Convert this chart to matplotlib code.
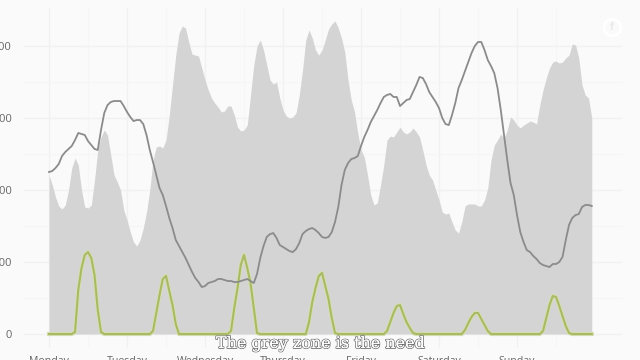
import numpy as np
import matplotlib
matplotlib.use('Agg')
import matplotlib.pyplot as plt
import matplotlib.patheffects as pe

days = ['Monday', 'Tuesday', 'Wednesday', 'Thursday', 'Friday', 'Saturday', 'Sunday']
y_ticks = [0, 5000, 10000, 15000, 20000]

# hourly values over one week
need = [11040, 10350, 9510, 8890, 8680, 8960, 10000, 11530, 12220, 11740, 10000, 8820,
        8750, 8960, 10690, 12780, 13680, 14170, 13820, 12430, 11040, 10560, 10000, 8610,
        7920, 7080, 6390, 6110, 6530, 7360, 8470, 10000, 12080, 12990, 13060, 12920,
        13470, 15210, 17290, 19370, 20900, 21390, 21250, 20280, 19440, 19370, 19300, 18470,
        17640, 16940, 16390, 16040, 15760, 15420, 15490, 15830, 15830, 15210, 14370, 14100,
        14170, 14510, 16600, 18680, 20000, 20420, 19720, 18680, 17640, 17360, 17500, 16390,
        15560, 15140, 15000, 15070, 15350, 16600, 18330, 20420, 21110, 20560, 19720, 19370,
        19720, 20420, 21180, 21530, 21740, 21250, 20560, 19580, 17640, 16250, 15420, 13960,
        12780, 12290, 11040, 9650, 8960, 9100, 10350, 11740, 13470, 13750, 13680, 14030,
        14370, 14030, 13890, 14030, 14310, 14030, 13680, 12780, 11740, 11040, 10690, 10000,
        9310, 8470, 8330, 8400, 7780, 7220, 7010, 7780, 8890, 9030, 9030, 9030,
        8890, 8890, 9310, 10140, 12080, 13120, 13470, 13890, 13610, 14170, 15070, 14860,
        14510, 14310, 14510, 14650, 14790, 14720, 14580, 15900, 16940, 17780, 18470, 18890,
        18960, 18820, 18890, 19170, 19370, 20140, 20070, 19170, 17290, 16600, 16390, 15000]

supply = [11250, 11320, 11530, 11810, 12360, 12640, 12850, 13060, 13470, 13960, 13890, 13820,
          13400, 13120, 12850, 12780, 14170, 15350, 15900, 16110, 16180, 16180, 16180, 15830,
          15420, 15070, 14790, 14860, 14860, 14580, 13820, 12780, 11940, 11040, 10140, 9650,
          8890, 8060, 7360, 6530, 6110, 5690, 5280, 4790, 4310, 3890, 3610, 3260,
          3330, 3540, 3610, 3680, 3820, 3820, 3750, 3680, 3680, 3610, 3610, 3680,
          3750, 3820, 3680, 3540, 4170, 5280, 6110, 6740, 6940, 7010, 6670, 6180,
          6040, 5900, 5760, 5690, 5900, 6320, 6940, 7150, 7290, 7360, 7220, 7010,
          6740, 6670, 6740, 7080, 7780, 8820, 10350, 11390, 11870, 12150, 12220, 12360,
          13060, 13680, 14170, 14720, 15140, 15560, 16040, 16460, 16600, 16670, 16460, 16460,
          15830, 16040, 16250, 16320, 16800, 17290, 17850, 17780, 17360, 16800, 16460, 16110,
          15690, 15000, 14580, 14510, 15210, 16040, 17080, 17640, 18260, 18890, 19510, 20000,
          20280, 20280, 19720, 19030, 18610, 18120, 17080, 15560, 13820, 12080, 10490, 9650,
          8260, 7080, 6390, 5830, 5690, 5420, 5210, 4930, 4790, 4720, 4650, 4860,
          4860, 5000, 5350, 6530, 7570, 8060, 8260, 8330, 8820, 8960, 8960, 8890]

solar = ([0] * 8 + [140, 3060, 4580, 5490, 5690, 5280, 4100, 1670, 140]
         + [0] * 15 + [210, 1460, 2710, 3820, 4030, 2990, 2010, 690]
         + [0] * 16 + [210, 1810, 3190, 4790, 5490, 4580, 3540, 1810, 70]
         + [0] * 15 + [830, 2220, 3190, 4030, 4240, 3330, 2430, 1110, 70]
         + [0] * 15 + [210, 830, 1460, 1940, 2010, 1390, 830, 420, 70]
         + [0] * 15 + [280, 760, 1180, 1460, 1460, 1040, 620, 210]
         + [0] * 16 + [210, 1110, 2010, 2640, 2570, 1940, 1250, 560, 70]
         + [0] * 7)

hours = np.arange(len(need))

plt.rcParams['font.family'] = ['Open Sans', 'DejaVu Sans']

fig = plt.figure(figsize=(6.4, 3.6), dpi=100, facecolor='#fafafa')
ax = fig.add_axes([24 / 640, 12 / 360, 598 / 640, 340 / 360], facecolor='#fafafa')

ax.fill_between(hours, need, 0, color='#d3d3d3', alpha=0.96, linewidth=0, zorder=2)
ax.plot(hours, solar, color='#d6deb0', lw=3, zorder=3)
ax.plot(hours, solar, color='#a9ba66', lw=1.5, zorder=4)
ax.plot(hours, supply, color='#8b8b8b', lw=1.3, zorder=4)

ax.set_xlim(-7.7, 176.3)
ax.set_ylim(-972, 22640)

ax.set_xticks(np.arange(0, 168, 24))
ax.set_xticks(np.arange(12, 168, 24), minor=True)
ax.set_xticklabels(days)
ax.set_yticks(y_ticks)
ax.set_yticks([2500, 7500, 12500, 17500], minor=True)
ax.set_yticklabels([str(v) for v in y_ticks])

ax.grid(which='major', color='#f1f1f1', lw=1, zorder=1)
ax.grid(which='minor', color='#f6f6f6', lw=0.8, zorder=1)
ax.set_axisbelow(True)
ax.tick_params(which='both', length=0)
ax.tick_params(axis='x', labelsize=7.6, labelcolor='#666666', pad=6)
ax.tick_params(axis='y', labelsize=8, labelcolor='#666666', pad=9)
for side in ax.spines.values():
    side.set_visible(False)

# caption over the chart, hollow letters
cap = fig.text(321 / 640, 1 - 343.5 / 360, 'The grey zone is the need', ha='center', va='center',
               fontsize=11.5, family='DejaVu Serif', color='white', zorder=10)
cap.set_path_effects([pe.withStroke(linewidth=1.2, foreground='#6e6e6e'), pe.Normal()])

# small round logo, top right
fig.add_artist(plt.Line2D([612 / 640], [1 - 27 / 360], marker='o', ms=12, mfc='none', mec='white', mew=2))
fig.text(612 / 640, 1 - 27 / 360, 'f', ha='center', va='center', fontsize=7, color='#e8e8e8', fontweight='bold')

fig.savefig('out.png', dpi=100, facecolor=fig.get_facecolor())
